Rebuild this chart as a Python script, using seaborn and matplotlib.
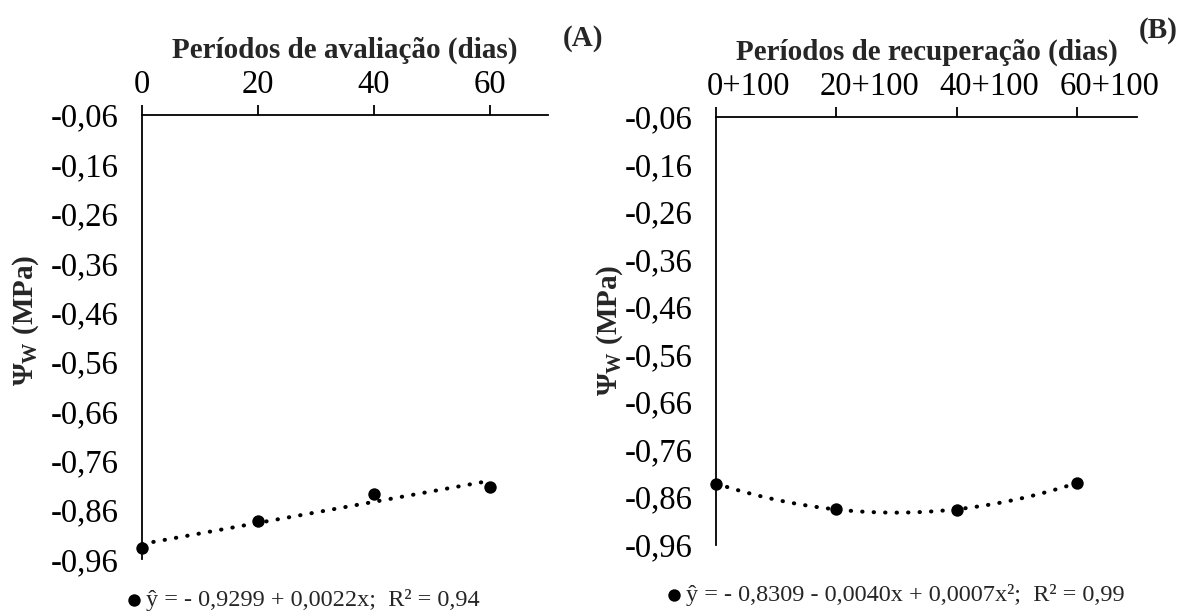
import numpy as np
import pandas as pd
import seaborn as sns
import matplotlib
matplotlib.use("Agg")
import matplotlib.pyplot as plt
from matplotlib.ticker import FixedLocator, FixedFormatter
from matplotlib.transforms import ScaledTranslation

# ---------------- data ----------------
days = [0, 20, 40, 60]
psi_avaliacao = [-0.937, -0.882, -0.827, -0.813]
psi_recuperacao = [-0.832, -0.885, -0.887, -0.830]

x_ticks = [0, 20, 40, 60]
x_labels_a = ["0", "20", "40", "60"]
x_labels_b = ["0+100", "20+100", "40+100", "60+100"]
y_ticks = [-0.96, -0.86, -0.76, -0.66, -0.56, -0.46, -0.36, -0.26, -0.16, -0.06]
y_labels = ["-0,96", "-0,86", "-0,76", "-0,66", "-0,56", "-0,46", "-0,36", "-0,26", "-0,16", "-0,06"]

title_a = "Períodos de avaliação (dias)"
title_b = "Períodos de recuperação (dias)"
eq_a = "ŷ = - 0,9299 + 0,0022x;  R² = 0,94"
eq_b = "ŷ = - 0,8309 - 0,0040x + 0,0007x²;  R² = 0,99"
ylab = r"$\mathbf{\Psi_{W}}$ (MPa)"

# ---------------- style ----------------
sns.set_style("white")
plt.rcParams["font.family"] = ["Liberation Serif", "DejaVu Serif"]
plt.rcParams["mathtext.fontset"] = "custom"
plt.rcParams["mathtext.rm"] = "Liberation Serif"
plt.rcParams["mathtext.bf"] = "Liberation Serif:bold"
plt.rcParams["mathtext.it"] = "Liberation Serif:italic"

W, H = 1184, 612
fig = plt.figure(figsize=(W / 100, H / 100), dpi=100)
fig.patch.set_facecolor("white")

axA = fig.add_axes([142 / W, 1 - 559.4 / H, 406 / W, 444.4 / H])
axB = fig.add_axes([716 / W, 1 - 544.5 / H, 421 / W, 427.5 / H])

panels = [
    (axA, psi_avaliacao, 1, x_labels_a, title_a, eq_a, (301, 600), (26, 320), 0.0),
    (axB, psi_recuperacao, 2, x_labels_b, title_b, eq_b, (893, 595), (610, 330), 0.33),
]

for ax, psi, order, xl, title, eq, legpos, ylpos, xshift in panels:
    df = pd.DataFrame({"dias": days, "psi": psi})
    sns.regplot(data=df, x="dias", y="psi", order=order, ci=None, scatter=False,
                ax=ax, truncate=True,
                line_kws=dict(color="black", lw=2.9, linestyle=(0, (0.1, 2.75)),
                              dash_capstyle="round", clip_on=False, zorder=2))
    sns.scatterplot(data=df, x="dias", y="psi", ax=ax, color="black", s=80,
                    linewidth=0, clip_on=False, zorder=3, label=eq)

    ax.set_xlim(0, 70)
    ax.set_ylim(-0.96, -0.06)
    ax.xaxis.set_major_locator(FixedLocator(x_ticks))
    ax.xaxis.set_major_formatter(FixedFormatter(xl))
    ax.yaxis.set_major_locator(FixedLocator(y_ticks))
    ax.yaxis.set_major_formatter(FixedFormatter(y_labels))
    ax.xaxis.tick_top()
    ax.xaxis.set_label_position("top")

    for s in ["right", "bottom"]:
        ax.spines[s].set_visible(False)
    for s in ["left", "top"]:
        ax.spines[s].set_linewidth(1.3)
        ax.spines[s].set_color("black")

    ax.tick_params(axis="x", direction="out", length=7, width=1.3, pad=4,
                   labelsize=23.5, colors="black")
    ax.tick_params(axis="y", direction="out", length=6, width=1.3, pad=11,
                   labelsize=23.5, colors="black")

    if xshift:
        for tk in ax.xaxis.get_major_ticks():
            for lab in (tk.label1, tk.label2):
                lab.set_transform(lab.get_transform() +
                                  ScaledTranslation(xshift, 0, fig.dpi_scale_trans))

    ax.set_xlabel(title, fontsize=21, fontweight="bold", labelpad=8)
    ax.set_ylabel(ylab, fontsize=21, fontweight="bold", va="center")
    ax.yaxis.set_label_coords(ylpos[0] / W, 1 - ylpos[1] / H, transform=fig.transFigure)
    ax.set_facecolor("none")

    ax.legend(loc="center", bbox_to_anchor=(legpos[0] / W, 1 - legpos[1] / H),
              bbox_transform=fig.transFigure, frameon=False, fontsize=17.5,
              handletextpad=0.0, handlelength=1.0, borderpad=0, borderaxespad=0)

fig.text(583 / W, 1 - 38 / H, "(A)", ha="center", va="center", fontsize=21, fontweight="bold")
fig.text(1158 / W, 1 - 30 / H, "(B)", ha="center", va="center", fontsize=21, fontweight="bold")

fig.savefig("out.png", dpi=100, facecolor="white")
